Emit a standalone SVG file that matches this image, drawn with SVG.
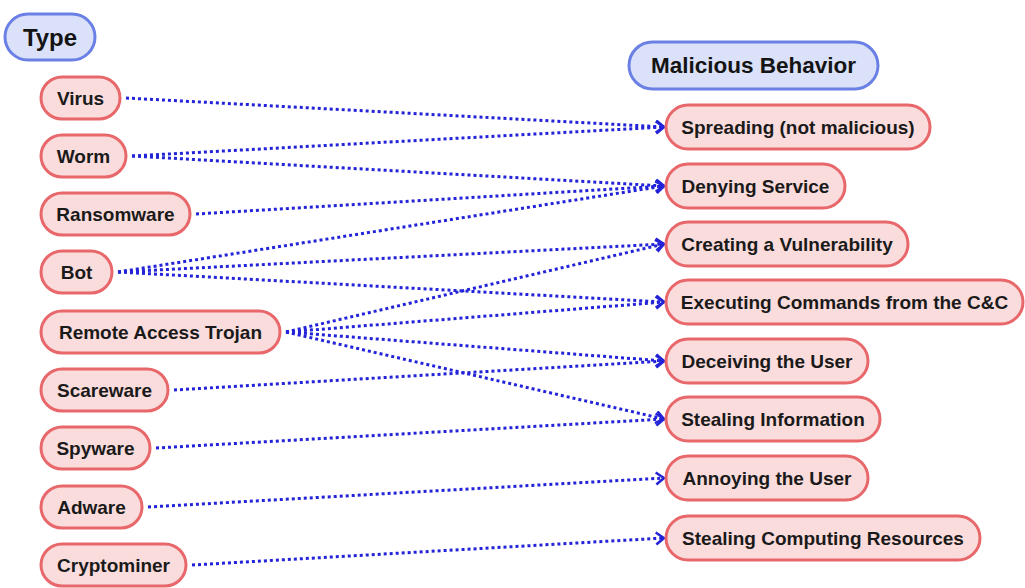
<svg xmlns="http://www.w3.org/2000/svg" width="1025" height="588" viewBox="0 0 1025 588">
  <style>
    .hdr rect { fill: #dbe1f8; stroke: #6b80e4; stroke-width: 3; }
    .hdr text { font-family: "Liberation Sans", Arial, sans-serif; font-weight: bold; fill: #141414; text-anchor: middle; dominant-baseline: central; }
    .item rect { fill: #fadcdc; stroke: #e8676a; stroke-width: 3; }
    .item text { font-family: "Liberation Sans", Arial, sans-serif; font-weight: bold; font-size: 19px; fill: #1a1a1a; text-anchor: middle; dominant-baseline: central; }
    .link { fill: none; stroke: #2323d8; stroke-width: 3; stroke-dasharray: 3 3; marker-end: url(#chev); }
  </style>
  <defs>
    <marker id="chev" markerUnits="userSpaceOnUse" markerWidth="14" markerHeight="16" refX="10" refY="7" orient="auto" viewBox="0 0 14 16">
      <path d="M2,1 L10,7 L2,13" fill="none" stroke="#2323d8" stroke-width="2.5" stroke-dasharray="none"/>
    </marker>
  </defs>
  <rect width="1025" height="588" fill="#ffffff"/>

  <!-- connectors -->
  <g id="connectors">
    <path class="link" d="M126,98 L664,127"/>
    <path class="link" d="M132,156 L664,127"/>
    <path class="link" d="M132,156 L664,186"/>
    <path class="link" d="M196,214 L664,186"/>
    <path class="link" d="M118,272 L664,186"/>
    <path class="link" d="M118,272 L664,244"/>
    <path class="link" d="M118,272 L664,302"/>
    <path class="link" d="M286,332 L664,244"/>
    <path class="link" d="M286,332 L664,302"/>
    <path class="link" d="M286,332 L664,361"/>
    <path class="link" d="M286,332 L664,419"/>
    <path class="link" d="M174,390 L664,361"/>
    <path class="link" d="M156,448 L664,419"/>
    <path class="link" d="M148,507 L664,478"/>
    <path class="link" d="M192,565 L664,538"/>
  </g>

  <!-- headers -->
  <g id="type" class="hdr">
    <rect x="5" y="14" width="90" height="46" rx="23"/>
    <text x="50" y="37" font-size="24">Type</text>
  </g>
  <g id="behavior" class="hdr">
    <rect x="629" y="42" width="249" height="47" rx="23.5"/>
    <text x="753.5" y="65.5" font-size="22.5">Malicious Behavior</text>
  </g>

  <!-- malware types -->
  <g id="virus" class="item"><rect x="41" y="77" width="79" height="42" rx="21"/><text x="80.5" y="98">Virus</text></g>
  <g id="worm" class="item"><rect x="41" y="135" width="85" height="42" rx="21"/><text x="83.5" y="156">Worm</text></g>
  <g id="ransomware" class="item"><rect x="41" y="193" width="149" height="42" rx="21"/><text x="115.5" y="214">Ransomware</text></g>
  <g id="bot" class="item"><rect x="41" y="251" width="71" height="42" rx="21"/><text x="76.5" y="272">Bot</text></g>
  <g id="rat" class="item"><rect x="41" y="311" width="239" height="42" rx="21"/><text x="160.5" y="332">Remote Access Trojan</text></g>
  <g id="scareware" class="item"><rect x="41" y="369" width="127" height="42" rx="21"/><text x="104.5" y="390">Scareware</text></g>
  <g id="spyware" class="item"><rect x="41" y="427" width="109" height="42" rx="21"/><text x="95.5" y="448">Spyware</text></g>
  <g id="adware" class="item"><rect x="41" y="486" width="101" height="42" rx="21"/><text x="91.5" y="507">Adware</text></g>
  <g id="cryptominer" class="item"><rect x="41" y="544" width="145" height="42" rx="21"/><text x="113.5" y="565">Cryptominer</text></g>

  <!-- behaviours -->
  <g id="spreading" class="item"><rect x="666" y="105" width="264" height="44" rx="22"/><text x="798" y="127">Spreading (not malicious)</text></g>
  <g id="denying" class="item"><rect x="666" y="164" width="179" height="44" rx="22"/><text x="755.5" y="186">Denying Service</text></g>
  <g id="creating" class="item"><rect x="666" y="222" width="242" height="44" rx="22"/><text x="787" y="244">Creating a Vulnerability</text></g>
  <g id="executing" class="item"><rect x="666" y="280" width="357" height="44" rx="22"/><text x="844.5" y="302">Executing Commands from the C&amp;C</text></g>
  <g id="deceiving" class="item"><rect x="666" y="339" width="202" height="44" rx="22"/><text x="767" y="361">Deceiving the User</text></g>
  <g id="stealing-info" class="item"><rect x="666" y="397" width="214" height="44" rx="22"/><text x="773" y="419">Stealing Information</text></g>
  <g id="annoying" class="item"><rect x="666" y="456" width="202" height="44" rx="22"/><text x="767" y="478">Annoying the User</text></g>
  <g id="stealing-compute" class="item"><rect x="666" y="516" width="314" height="44" rx="22"/><text x="823" y="538">Stealing Computing Resources</text></g>
</svg>
